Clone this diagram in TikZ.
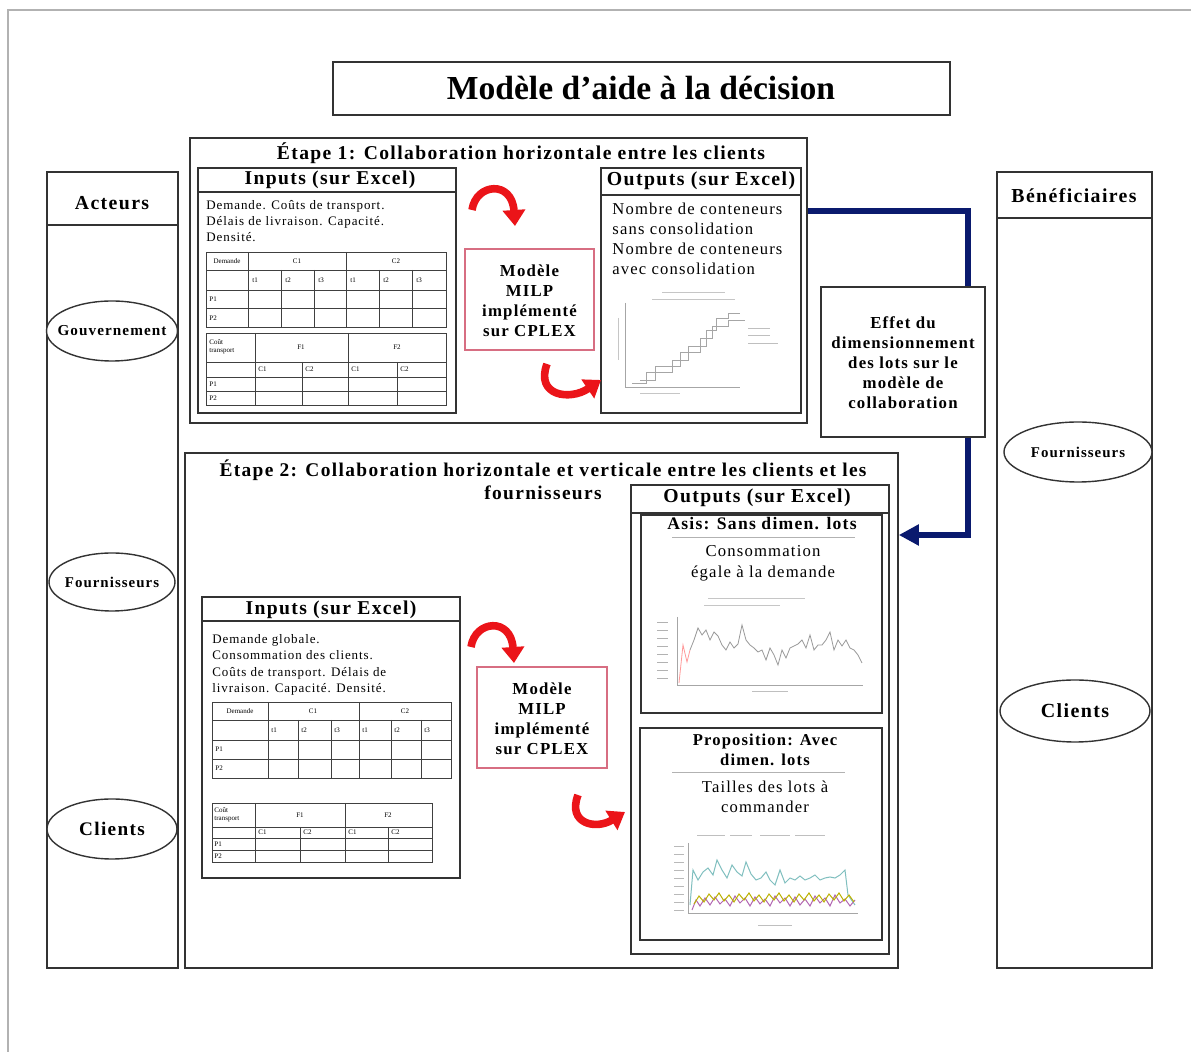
\documentclass[tikz,border=0pt]{standalone}
\usepackage{fontspec}
\setmainfont{Liberation Serif}
\newfontfamily\wide[LetterSpace=7]{Liberation Serif}
\usetikzlibrary{arrows.meta,shapes.geometric,calc}
\newcommand\myfs[2]{\fontsize{#1}{#2}\selectfont}
\definecolor{diagblue}{RGB}{10,26,110}
\definecolor{arrred}{RGB}{235,20,25}
\definecolor{pinkb}{RGB}{215,110,130}
\begin{document}
\begin{tikzpicture}[x=0.5pt,y=-0.5pt,
  frame/.style={draw=black!80,line width=0.8pt,inner sep=0pt,fill=white},
  lbl/.style={inner sep=0pt,align=center},
  oval/.style={draw=black!80,line width=0.7pt,ellipse,inner sep=0pt,fill=white},
  tab/.style={draw=black!75,line width=0.4pt},
  tiny/.style={inner sep=0pt,font=\myfs{3.5}{4}},
  chart/.style={draw=gray!70,line width=0.4pt},
  redarrow/.style={draw=arrred,line width=3.8pt,-{Triangle[length=8pt,width=11pt]}},
  blueconn/.style={draw=diagblue,line width=2.6pt},
]
\useasboundingbox (0,0) rectangle (1191,1052);
\fill[white] (0,0) rectangle (1191,1052);
\draw[gray!60,line width=1.2pt] (8,1052) -- (8,10) -- (1191,10);

% title
\node[frame,minimum width=308.5pt,minimum height=26.5pt] (title) at (641.5,88.5) {};
\node[lbl,font=\myfs{16.8}{19}\bfseries] (titletxt) at (641,88) {Modèle d’aide à la décision};

% Acteurs column
\node[frame,minimum width=65.5pt,minimum height=398pt] (act) at (112.5,570) {};
\draw[black!80,line width=0.7pt] (act.west |- 0,225) -- (act.east |- 0,225);
\node[lbl,font=\wide\myfs{9.9}{12}\bfseries] (acttxt) at (112,203) {Acteurs};
\node[oval,minimum width=65.5pt,minimum height=30pt] (gov) at (112,331) {};
\node[lbl,font=\wide\myfs{7.6}{9}\bfseries] (govt) at (gov.center) {Gouvernement};
\node[oval,minimum width=63pt,minimum height=29pt] (fourL) at (112,582) {};
\node[lbl,font=\wide\myfs{7.45}{9}\bfseries] (fourLt) at (fourL.center) {Fournisseurs};
\node[oval,minimum width=65pt,minimum height=30pt] (cliL) at (112,829) {};
\node[lbl,font=\wide\myfs{9.6}{12}\bfseries] (cliLt) at (cliL.center) {Clients};

% Beneficiaires column
\node[frame,minimum width=77.5pt,minimum height=398pt] (ben) at (1074.5,570) {};
\draw[black!80,line width=0.7pt] (ben.west |- 0,218) -- (ben.east |- 0,218);
\node[lbl,font=\wide\myfs{9.9}{12}\bfseries] (bentxt) at (1074,196) {Bénéficiaires};
\node[oval,minimum width=74pt,minimum height=30pt] (fourR) at (1078,452) {};
\node[lbl,font=\wide\myfs{7.45}{9}\bfseries] (fourRt) at (fourR.center) {Fournisseurs};
\node[oval,minimum width=75pt,minimum height=31pt] (cliR) at (1075,711) {};
\node[lbl,font=\wide\myfs{10}{12}\bfseries] (cliRt) at (cliR.center) {Clients};

% Etape 1
\node[frame,minimum width=308.5pt,minimum height=142.5pt] (et1) at (498.5,280.5) {};
\node[lbl,font=\wide\myfs{9.8}{12}\bfseries] (et1txt) at (521,153) {Étape 1: Collaboration horizontale entre les clients};

% Inputs 1
\node[frame,minimum width=129pt,minimum height=122.5pt] (in1) at (327,290.5) {};
\draw[black!80,line width=0.7pt] (in1.west |- 0,192) -- (in1.east |- 0,192);
\node[lbl,font=\wide\myfs{9.8}{12}\bfseries] (in1h) at (330,180) {Inputs (sur Excel)};
\node[lbl,anchor=north west,align=left,font=\wide\myfs{6.5}{8}] (in1t) at (206,200) {Demande. Coûts de transport.\\Délais de livraison. Capacité.\\Densité.};
% table 1
\draw[tab] (206,252) rectangle (446,327);
\foreach \y in {270,290,308} \draw[tab] (206,\y) -- (446,\y);
\foreach \x in {248,346} \draw[tab] (\x,252) -- (\x,327);
\foreach \x in {281,314,379,412} \draw[tab] (\x,270) -- (\x,327);
\node[tiny] (ta1l) at (227,261) {Demande};
\node[tiny] (ta1c1) at (297,261) {C1};
\node[tiny] (ta1c2) at (396,261) {C2};
\foreach \x/\t [count=\i] in {252/t1,285/t2,318/t3,350/t1,383/t2,416/t3}
  \node[tiny,anchor=west] (ta1s\i) at (\x,280) {\t};
\node[tiny,anchor=west] (ta1p1) at (209,299) {P1};
\node[tiny,anchor=west] (ta1p2) at (209,318) {P2};
% table 2
\draw[tab] (206,333) rectangle (446,405);
\foreach \y in {362,377,391} \draw[tab] (206,\y) -- (446,\y);
\foreach \x in {255,348} \draw[tab] (\x,333) -- (\x,405);
\foreach \x in {302,397} \draw[tab] (\x,362) -- (\x,405);
\node[tiny,align=left,anchor=west] (tb1l) at (209,347) {Coût\\transport};
\node[tiny] (tb1f1) at (301,347) {F1};
\node[tiny] (tb1f2) at (397,347) {F2};
\foreach \x/\t [count=\i] in {258/C1,305/C2,351/C1,400/C2}
  \node[tiny,anchor=west] (tb1s\i) at (\x,369.5) {\t};
\node[tiny,anchor=west] (tb1p1) at (209,384) {P1};
\node[tiny,anchor=west] (tb1p2) at (209,398) {P2};

% Model 1
\node[frame,draw=pinkb,line width=0.6pt,minimum width=64.5pt,minimum height=50.5pt] (mod1) at (529.5,299.5) {};
\node[lbl,font=\wide\myfs{8.4}{10}\bfseries] (mod1t) at (529.5,301) {Modèle\\MILP\\implémenté\\sur CPLEX};

% Outputs 1
\node[frame,minimum width=100pt,minimum height=122.5pt] (out1) at (701,290.5) {};
\draw[black!80,line width=0.7pt] (out1.west |- 0,195) -- (out1.east |- 0,195);
\node[lbl,font=\wide\myfs{9.9}{12}\bfseries] (out1h) at (701,181) {Outputs (sur Excel)};
\node[lbl,anchor=north west,align=left,font=\wide\myfs{8.3}{10}] (out1t) at (612,203) {Nombre de conteneurs\\sans consolidation\\Nombre de conteneurs\\avec consolidation};
% chart 1
\draw[chart,gray!45] (662,292) -- (725,292);
\draw[chart,gray!45] (652,299) -- (735,299);
\draw[chart] (625,303) -- (625,387) -- (740,387);
\draw[chart,gray!45] (618,318) -- (618,360);
\draw[chart,gray!45] (640,393) -- (680,393);
\draw[chart] (632,383) -- (646,383) -- (646,372) -- (672,372) -- (672,360) -- (688,360) -- (688,346) -- (706,346) -- (706,330) -- (716,330) -- (716,318) -- (728,318) -- (728,313) -- (740,313);
\draw[chart] (640,380) -- (655,380) -- (655,366) -- (680,366) -- (680,352) -- (700,352) -- (700,338) -- (712,338) -- (712,326) -- (728,326) -- (728,320) -- (745,320);
\draw[chart,gray!50] (748,328) -- (770,328);
\draw[chart,gray!50] (748,335) -- (770,335);
\draw[chart,gray!50] (748,343) -- (778,343);

% red arrows stage 1
\draw[redarrow] (472,210) .. controls (476,183) and (512,180) .. (515,226);
\draw[redarrow] (547,364) .. controls (535,396) and (570,401) .. (601,380);

% Effect box and blue connector
\coordinate (c1) at (0,211);
\coordinate (c2) at (0,535);
\coordinate (c3) at (968,0);
\node[frame,minimum width=82pt,minimum height=75pt] (eff) at (903,362) {};
\node[lbl,font=\wide\myfs{8.4}{10}\bfseries] (efft) at (903,363) {Effet du\\dimensionnement\\des lots sur le\\modèle de\\collaboration};
\draw[blueconn] (et1.east |- c1) -| (eff.north -| c3);

% Etape 2
\node[frame,minimum width=356.5pt,minimum height=257.5pt] (et2) at (541.5,710.5) {};
\draw[blueconn,-{Triangle[length=10pt,width=10pt]}] (eff.south -| c3) |- (et2.east |- c2);
\node[lbl,font=\wide\myfs{9.7}{11.5}\bfseries] (et2txt) at (543,479.5) {Étape 2: Collaboration horizontale et verticale entre les clients et les\\fournisseurs};

% Inputs 2
\node[frame,minimum width=129pt,minimum height=140.5pt] (in2) at (331,737.5) {};
\draw[black!80,line width=0.7pt] (in2.west |- 0,621) -- (in2.east |- 0,621);
\node[lbl,font=\wide\myfs{9.8}{12}\bfseries] (in2h) at (331,610) {Inputs (sur Excel)};
\node[lbl,anchor=north west,align=left,font=\wide\myfs{6.5}{8.2}] (in2t) at (212,634) {Demande globale.\\Consommation des clients.\\Coûts de transport. Délais de\\livraison. Capacité. Densité.};
% table 3
\draw[tab] (212,702) rectangle (451,778);
\foreach \y in {720,740,759} \draw[tab] (212,\y) -- (451,\y);
\foreach \x in {268,359} \draw[tab] (\x,702) -- (\x,778);
\foreach \x in {298,331,391,421} \draw[tab] (\x,720) -- (\x,778);
\node[tiny] (tc1l) at (240,711) {Demande};
\node[tiny] (tc1c1) at (313,711) {C1};
\node[tiny] (tc1c2) at (405,711) {C2};
\foreach \x/\t [count=\i] in {271/t1,301/t2,334/t3,362/t1,394/t2,424/t3}
  \node[tiny,anchor=west] (tc1s\i) at (\x,730) {\t};
\node[tiny,anchor=west] (tc1p1) at (215,749.5) {P1};
\node[tiny,anchor=west] (tc1p2) at (215,768.5) {P2};
% table 4
\draw[tab] (212,803) rectangle (432,862);
\foreach \y in {827,838,850} \draw[tab] (212,\y) -- (432,\y);
\foreach \x in {255,345} \draw[tab] (\x,803) -- (\x,862);
\foreach \x in {300,388} \draw[tab] (\x,827) -- (\x,862);
\node[tiny,align=left,anchor=west] (td1l) at (214,815) {Coût\\transport};
\node[tiny] (td1f1) at (300,815) {F1};
\node[tiny] (td1f2) at (388,815) {F2};
\foreach \x/\t [count=\i] in {258/C1,303/C2,348/C1,391/C2}
  \node[tiny,anchor=west] (td1s\i) at (\x,832.5) {\t};
\node[tiny,anchor=west] (td1p1) at (214,844) {P1};
\node[tiny,anchor=west] (td1p2) at (214,856) {P2};

% Model 2
\node[frame,draw=pinkb,line width=0.6pt,minimum width=65pt,minimum height=50.5pt] (mod2) at (542,717.5) {};
\node[lbl,font=\wide\myfs{8.4}{10}\bfseries] (mod2t) at (542,719) {Modèle\\MILP\\implémenté\\sur CPLEX};

% red arrows stage 2
\draw[redarrow] (471,647) .. controls (475,620) and (511,617) .. (514,663);
\draw[redarrow] (578,795) .. controls (567,824) and (596,830) .. (625,812);

% Outputs 2
\node[frame,minimum width=129pt,minimum height=234.5pt] (out2) at (760,719.5) {};
\draw[black!80,line width=0.7pt] (out2.west |- 0,513) -- (out2.east |- 0,513);
\node[lbl,font=\wide\myfs{9.85}{12}\bfseries] (out2h) at (757,498) {Outputs (sur Excel)};
\node[frame,minimum width=120.5pt,minimum height=99pt] (subA) at (761.5,614) {};
\node[lbl,font=\wide\myfs{8.8}{10}\bfseries] (subAh) at (762,524) {Asis: Sans dimen. lots};
\draw[gray!60,line width=0.4pt] (672,537) -- (855,537);
\node[lbl,font=\wide\myfs{8.35}{10.5}] (subAt) at (763,563.5) {Consommation\\égale à la demande};
% chart A
\draw[chart,gray!45] (708,598) -- (805,598);
\draw[chart,gray!45] (704,605) -- (780,605);
\foreach \y in {622,630,638,646,654,662,670,678} \draw[chart,gray!60] (657,\y) -- (668,\y);
\draw[chart] (677,617) -- (677,685) -- (863,685);
\draw[chart,gray!50] (752,691) -- (788,691);
\draw[draw=pink!80!red,line width=0.4pt] (679,683) -- (683,645) -- (687,662) -- (690,650);
\draw[chart,gray!80] (690,650) -- (694,640) -- (698,628) -- (702,635) -- (706,630) -- (710,640) -- (714,632) -- (718,636) -- (722,645) -- (726,650) -- (730,642) -- (734,648) -- (738,644) -- (742,625) -- (746,640) -- (750,645) -- (754,648) -- (758,652) -- (762,650) -- (766,660) -- (770,648) -- (774,655) -- (778,665) -- (782,650) -- (786,658) -- (790,648) -- (794,646) -- (798,644) -- (802,640) -- (806,648) -- (810,635) -- (814,650) -- (818,645) -- (822,645) -- (826,640) -- (830,632) -- (834,650) -- (838,640) -- (842,646) -- (846,640) -- (850,648) -- (854,650) -- (858,655) -- (862,663);

\node[frame,minimum width=121pt,minimum height=106pt] (subB) at (761,834) {};
\node[lbl,font=\wide\myfs{8.3}{10}\bfseries] (subBh) at (765,750) {Proposition: Avec\\dimen. lots};
\draw[gray!60,line width=0.4pt] (672,772) -- (845,772);
\node[lbl,font=\wide\myfs{8.3}{10}] (subBt) at (765,797) {Tailles des lots à\\commander};
% chart B
\foreach \a/\b in {697/725,730/752,760/790,795/825} \draw[chart,gray!50] (\a,835) -- (\b,835);
\foreach \y in {846,854,862,870,878,886,894,902,910} \draw[chart,gray!55] (674,\y) -- (684,\y);
\draw[chart] (688,843) -- (688,913) -- (858,913);
\draw[chart,gray!50] (758,925) -- (792,925);
\draw[draw=teal!50,line width=0.5pt] (690,905) -- (693,870) -- (698,880) -- (703,872) -- (708,868) -- (713,875) -- (717,860) -- (722,870) -- (727,878) -- (732,865) -- (737,872) -- (742,876) -- (746,862) -- (751,874) -- (756,880) -- (761,878) -- (766,872) -- (770,880) -- (775,885) -- (780,870) -- (785,883) -- (790,878) -- (795,880) -- (800,876) -- (805,880) -- (810,878) -- (815,875) -- (820,880) -- (825,878) -- (830,877) -- (835,878) -- (840,875) -- (845,870) -- (848,895) -- (855,905);
\draw[draw=violet!60,line width=0.5pt] (692,910) -- (696,900) -- (700,906) -- (705,898) -- (710,905) -- (715,897) -- (720,904) -- (725,899) -- (730,906) -- (735,896) -- (740,903) -- (745,898) -- (750,906) -- (755,897) -- (760,904) -- (765,899) -- (770,906) -- (775,896) -- (780,903) -- (785,898) -- (790,906) -- (795,897) -- (800,905) -- (805,899) -- (810,906) -- (815,896) -- (820,903) -- (825,898) -- (830,906) -- (835,895) -- (840,903) -- (845,899) -- (850,906) -- (855,900);
\draw[draw=olive!60!yellow,line width=0.5pt] (694,904) -- (699,896) -- (704,902) -- (709,894) -- (714,900) -- (719,893) -- (724,901) -- (729,895) -- (734,902) -- (739,894) -- (744,900) -- (749,893) -- (754,901) -- (759,895) -- (764,902) -- (769,894) -- (774,900) -- (779,893) -- (784,901) -- (789,895) -- (794,902) -- (799,894) -- (804,900) -- (809,893) -- (814,901) -- (819,895) -- (824,902) -- (829,894) -- (834,900) -- (839,893) -- (844,901) -- (849,895) -- (854,902);
\end{tikzpicture}
\end{document}
